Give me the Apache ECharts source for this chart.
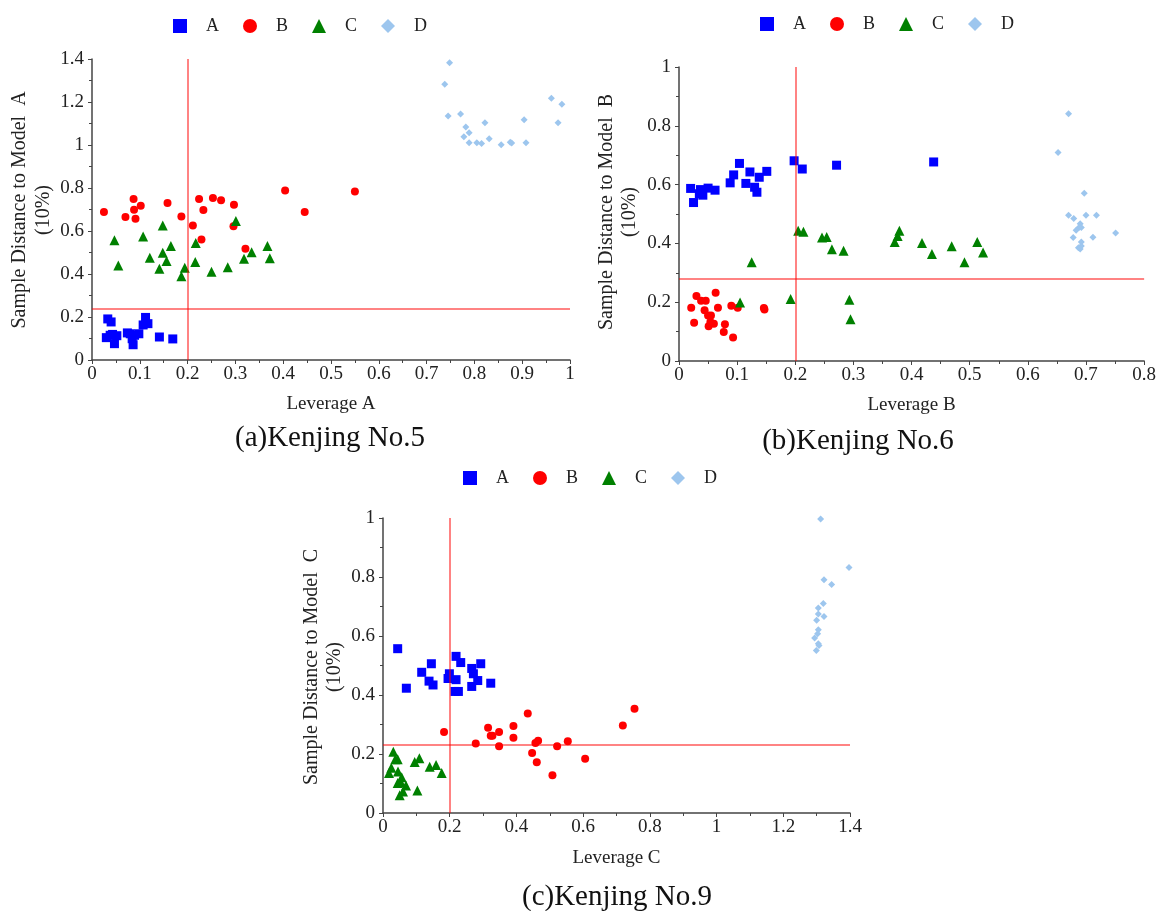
<!DOCTYPE html>
<html>
<head>
<meta charset="utf-8">
<script src="https://cdn.jsdelivr.net/npm/echarts@6/dist/echarts.min.js"></script>
<style>
html, body {margin:0; padding:0; background:#fff;}
#main {width:1159px; height:911px;}
</style>
</head>
<body>
<div id="main"></div>
<script>
// ---- data: [leverage, distance] ----
// (a) Kenjing No.5
var a_A = [[0.033,0.191],[0.040,0.177],[0.030,0.104],[0.038,0.115],[0.043,0.119],[0.052,0.113],[0.047,0.076],[0.074,0.126],[0.080,0.122],[0.084,0.099],[0.086,0.071],[0.089,0.115],[0.098,0.122],[0.107,0.163],[0.112,0.198],[0.117,0.169],[0.141,0.107],[0.169,0.098]];
var a_B = [[0.025,0.688],[0.070,0.665],[0.087,0.749],[0.088,0.699],[0.091,0.657],[0.102,0.718],[0.158,0.730],[0.187,0.668],[0.211,0.626],[0.224,0.749],[0.233,0.698],[0.229,0.561],[0.253,0.753],[0.270,0.743],[0.297,0.722],[0.296,0.622],[0.321,0.518],[0.404,0.788],[0.445,0.688],[0.550,0.784]];
var a_C = [[0.047,0.557],[0.055,0.440],[0.107,0.575],[0.121,0.476],[0.148,0.626],[0.148,0.499],[0.156,0.460],[0.165,0.530],[0.141,0.425],[0.187,0.389],[0.194,0.429],[0.217,0.544],[0.216,0.456],[0.250,0.411],[0.284,0.431],[0.301,0.647],[0.318,0.471],[0.334,0.501],[0.367,0.530],[0.372,0.473]];
var a_D = [[0.738,1.283],[0.748,1.383],[0.745,1.135],[0.771,1.144],[0.782,1.084],[0.778,1.038],[0.789,1.057],[0.789,1.010],[0.805,1.010],[0.815,1.007],[0.822,1.104],[0.831,1.029],[0.856,1.001],[0.875,1.013],[0.878,1.009],[0.904,1.118],[0.908,1.010],[0.961,1.218],[0.975,1.104],[0.983,1.190]];

// (b) Kenjing No.6
var b_A = [[0.020,0.587],[0.025,0.539],[0.035,0.569],[0.037,0.583],[0.041,0.564],[0.050,0.588],[0.062,0.581],[0.088,0.606],[0.094,0.633],[0.104,0.672],[0.115,0.604],[0.122,0.643],[0.130,0.591],[0.134,0.574],[0.138,0.625],[0.151,0.645],[0.198,0.681],[0.212,0.653],[0.271,0.666],[0.438,0.677]];
var b_B = [[0.021,0.181],[0.026,0.130],[0.030,0.221],[0.038,0.205],[0.046,0.205],[0.044,0.173],[0.050,0.155],[0.055,0.155],[0.051,0.118],[0.054,0.133],[0.060,0.127],[0.063,0.232],[0.067,0.181],[0.077,0.099],[0.079,0.125],[0.090,0.188],[0.093,0.080],[0.101,0.181],[0.146,0.180],[0.147,0.175]];
var b_C = [[0.105,0.199],[0.125,0.336],[0.192,0.211],[0.205,0.443],[0.214,0.440],[0.246,0.420],[0.254,0.422],[0.263,0.380],[0.283,0.375],[0.293,0.208],[0.295,0.142],[0.371,0.405],[0.376,0.425],[0.379,0.443],[0.418,0.401],[0.435,0.364],[0.469,0.390],[0.491,0.336],[0.513,0.405],[0.523,0.369]];
var b_D = [[0.670,0.841],[0.652,0.709],[0.697,0.571],[0.670,0.496],[0.679,0.485],[0.700,0.496],[0.718,0.496],[0.690,0.467],[0.688,0.454],[0.683,0.445],[0.692,0.454],[0.678,0.420],[0.712,0.421],[0.751,0.435],[0.692,0.405],[0.687,0.385],[0.692,0.391],[0.690,0.381]];

// (c) Kenjing No.9
var c_A = [[0.044,0.557],[0.070,0.423],[0.116,0.477],[0.145,0.506],[0.138,0.447],[0.150,0.434],[0.195,0.456],[0.199,0.472],[0.219,0.531],[0.233,0.510],[0.219,0.452],[0.216,0.412],[0.226,0.412],[0.266,0.490],[0.271,0.472],[0.266,0.429],[0.284,0.449],[0.293,0.506],[0.323,0.440]];
var c_B = [[0.183,0.275],[0.278,0.236],[0.315,0.289],[0.323,0.262],[0.328,0.262],[0.348,0.275],[0.348,0.226],[0.391,0.295],[0.391,0.255],[0.434,0.337],[0.447,0.203],[0.457,0.237],[0.465,0.245],[0.461,0.172],[0.508,0.128],[0.522,0.226],[0.554,0.243],[0.606,0.184],[0.719,0.297],[0.754,0.353]];
var c_C = [[0.031,0.208],[0.018,0.136],[0.025,0.153],[0.037,0.182],[0.044,0.182],[0.045,0.141],[0.044,0.102],[0.053,0.105],[0.056,0.121],[0.050,0.060],[0.060,0.073],[0.069,0.093],[0.095,0.173],[0.109,0.186],[0.103,0.076],[0.140,0.157],[0.159,0.163],[0.176,0.136]];
var c_D = [[1.312,0.997],[1.397,0.832],[1.322,0.791],[1.345,0.775],[1.320,0.710],[1.305,0.695],[1.305,0.675],[1.322,0.666],[1.300,0.653],[1.305,0.621],[1.303,0.608],[1.294,0.593],[1.305,0.574],[1.307,0.568],[1.299,0.551]];

// warning limits (leverage / distance) for a, b, c
var refX = [0.2, 0.2, 0.2];
var refY = [0.245, 0.283, 0.235];

var groups = ['A', 'B', 'C', 'D'];
var symbols = ['rect', 'circle', 'triangle', 'diamond'];
var sizes = [9, 8, 10, 7];
var colors = ['#0000ff', '#ff0000', '#008000', '#9dc6ee'];

var serif = '"Liberation Serif", "DejaVu Serif", serif';

var myChart = echarts.init(document.getElementById('main'));

function axisX(gi, max, step, name, gap) {
	return {
		gridIndex: gi, type: 'value', min: 0, max: max, interval: step,
		name: name, nameLocation: 'middle', nameGap: gap,
		nameTextStyle: {fontFamily: serif, fontSize: 19, color: '#222'},
		axisLine: {show: true, lineStyle: {color: '#444', width: 1.5}},
		axisTick: {show: true, inside: false, length: 4, lineStyle: {color: '#444'}},
		minorTick: {show: true, splitNumber: 2, length: 3, lineStyle: {color: '#444'}},
		axisLabel: {fontFamily: serif, fontSize: 19, color: '#222', margin: 5},
		splitLine: {show: false}
	};
}
function axisY(gi, max, step) {
	return {
		gridIndex: gi, type: 'value', min: 0, max: max, interval: step,
		axisLine: {show: true, lineStyle: {color: '#444', width: 1.5}},
		axisTick: {show: true, inside: false, length: 4, lineStyle: {color: '#444'}},
		minorTick: {show: true, splitNumber: 2, length: 3, lineStyle: {color: '#444'}},
		axisLabel: {fontFamily: serif, fontSize: 19, color: '#222', margin: 8},
		splitLine: {show: false}
	};
}
function legendAt(left, top) {
	return {
		left: left, top: top, orient: 'horizontal',
		itemWidth: 14, itemHeight: 14, itemGap: 24,
		textStyle: {fontFamily: serif, fontSize: 18, color: '#222', padding: [0, 0, 0, 14]},
		data: groups.map(function (g, i) { return {name: g, icon: symbols[i]}; })
	};
}

var plotData = [[a_A, a_B, a_C, a_D], [b_A, b_B, b_C, b_D], [c_A, c_B, c_C, c_D]];
var series = [];
plotData.forEach(function (sets, gi) {
	sets.forEach(function (pts, k) {
		var s = {
			name: groups[k], type: 'scatter',
			xAxisIndex: gi, yAxisIndex: gi,
			symbol: symbols[k], symbolSize: sizes[k],
			itemStyle: {color: colors[k], opacity: 1},
			data: pts
		};
		if (k == 0) {
			s.markLine = {
				silent: true, symbol: 'none', animation: false,
				label: {show: false},
				lineStyle: {color: 'rgba(255,0,0,0.65)', width: 1.5, type: 'solid'},
				data: [{xAxis: refX[gi]}, {yAxis: refY[gi]}]
			};
		}
		series.push(s);
	});
});

function vtext(x, y, str) {
	return {type: 'text', x: x, y: y, rotation: Math.PI / 2,
		style: {text: str, fontFamily: serif, fontSize: 20, fill: '#222', align: 'center', verticalAlign: 'middle'}};
}
function caption(x, y, str) {
	return {type: 'text', x: x, y: y,
		style: {text: str, fontFamily: serif, fontSize: 29, fill: '#111', align: 'center', verticalAlign: 'middle'}};
}

option = {
	backgroundColor: '#fff',
	animation: false,
	legend: [legendAt(168, 12), legendAt(755, 10), legendAt(458, 464)],
	grid: [
		{left: 92, top: 59, width: 478, height: 301},
		{left: 679, top: 67, width: 469, height: 294},
		{left: 383, top: 518, width: 467, height: 295}
	],
	xAxis: [
		axisX(0, 1, 0.1, 'Leverage A', 35),
		axisX(1, 0.8, 0.1, 'Leverage B', 35),
		axisX(2, 1.4, 0.2, 'Leverage C', 36)
	],
	yAxis: [axisY(0, 1.4, 0.2), axisY(1, 1, 0.2), axisY(2, 1, 0.2)],
	graphic: [
		vtext(20, 210, 'Sample Distance to Model  A'),
		vtext(44, 210, '(10%)'),
		vtext(607, 212, 'Sample Distance to Model  B'),
		vtext(630, 212, '(10%)'),
		vtext(312, 667, 'Sample Distance to Model  C'),
		vtext(335, 667, '(10%)'),
		caption(330, 438, '(a)Kenjing No.5'),
		caption(858, 441, '(b)Kenjing No.6'),
		caption(617, 897, '(c)Kenjing No.9')
	],
	series: series
};
if (option && typeof option === "object") {
	myChart.setOption(option, true);
}
</script>
</body>
</html>
